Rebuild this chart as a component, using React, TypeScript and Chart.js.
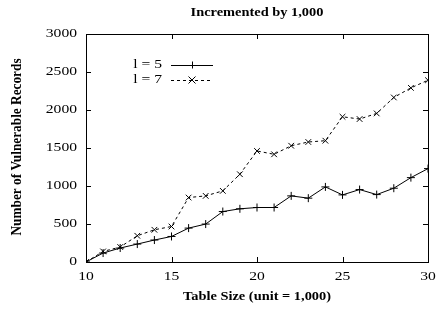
import React, { useEffect, useRef } from "react";
import { Chart, registerables } from "chart.js";

Chart.register(...registerables);

const tableSizes = [10, 11, 12, 13, 14, 15, 16, 17, 18, 19, 20, 21, 22, 23, 24, 25, 26, 27, 28, 29, 30];
const seriesL5 = [0, 118, 184, 236, 289, 336, 446, 499, 664, 700, 717, 717, 870, 840, 988, 883, 953, 887, 971, 1110, 1229];
const seriesL7 = [0, 139, 197, 345, 424, 467, 848, 870, 936, 1155, 1461, 1417, 1530, 1579, 1596, 1911, 1881, 1955, 2165, 2291, 2392];
const xTicks = [10, 15, 20, 25, 30];
const yTicks = [0, 500, 1000, 1500, 2000, 2500, 3000];
const seriesLabels = ["l = 5", "l = 7"];
const chartTitle = "Incremented by 1,000";
const xTitle = "Table Size (unit = 1,000)";
const yTitle = "Number of Vulnerable Records";

const FONT = "'Liberation Serif', 'DejaVu Serif', serif";
const SX = 1.2;

function drawText(ctx: any, text: string, x: number, y: number, align: string, font: string, sx = SX) {
  ctx.save();
  ctx.translate(x, y);
  ctx.scale(sx, 1);
  ctx.font = font;
  ctx.textAlign = align;
  ctx.textBaseline = "middle";
  ctx.fillStyle = "#000";
  ctx.fillText(text, 0, 0);
  ctx.restore();
}

const framePlugin = {
  id: "frame",
  afterDatasetsDraw(chart: any) {
    const { ctx, chartArea: a, scales } = chart;
    const xs = scales.x;
    const ys = scales.y;
    ctx.save();
    ctx.strokeStyle = "#000";
    ctx.lineWidth = 1;
    ctx.setLineDash([]);
    ctx.strokeRect(Math.round(a.left) + 0.5, Math.round(a.top) + 0.5, Math.round(a.right - a.left), Math.round(a.bottom - a.top));
    const tl = 5;
    ctx.beginPath();
    for (const v of xTicks) {
      const px = Math.round(xs.getPixelForValue(v)) + 0.5;
      ctx.moveTo(px, a.bottom);
      ctx.lineTo(px, a.bottom - tl);
      ctx.moveTo(px, a.top);
      ctx.lineTo(px, a.top + tl);
    }
    for (const v of yTicks) {
      const py = Math.round(ys.getPixelForValue(v)) + 0.5;
      ctx.moveTo(a.left, py);
      ctx.lineTo(a.left + tl, py);
      ctx.moveTo(a.right, py);
      ctx.lineTo(a.right - tl, py);
    }
    ctx.stroke();

    const tickFont = `13px ${FONT}`;
    for (const v of xTicks) {
      drawText(ctx, String(v), xs.getPixelForValue(v), 277, "center", tickFont);
    }
    for (const v of yTicks) {
      drawText(ctx, String(v), a.left - 9, ys.getPixelForValue(v), "right", tickFont);
    }

    // titles
    const titleFont = `bold 12px ${FONT}`;
    drawText(ctx, chartTitle, (a.left + a.right) / 2, 13, "center", titleFont);
    drawText(ctx, xTitle, (a.left + a.right) / 2, 297, "center", titleFont);
    ctx.save();
    ctx.translate(17, 147);
    ctx.rotate(-Math.PI / 2);
    ctx.scale(1, 1.1);
    ctx.font = `bold 13.3px ${FONT}`;
    ctx.textAlign = "center";
    ctx.textBaseline = "middle";
    ctx.fillStyle = "#000";
    ctx.fillText(yTitle, 0, 0);
    ctx.restore();

    // legend
    const datasets = chart.data.datasets;
    const lx0 = 171, lx1 = 213;
    const rows = [65, 80];
    datasets.forEach((ds: any, i: number) => {
      const y = rows[i];
      drawText(ctx, ds.label, 162, y, "right", tickFont);
      ctx.strokeStyle = ds.borderColor;
      ctx.lineWidth = ds.borderWidth;
      ctx.setLineDash(ds.borderDash || []);
      ctx.beginPath();
      ctx.moveTo(lx0, y + 0.5);
      ctx.lineTo(lx1, y + 0.5);
      ctx.stroke();
      ctx.setLineDash([]);
      const cx = (lx0 + lx1) / 2;
      const r = 3.5;
      ctx.beginPath();
      if (ds.pointStyle === "cross") {
        ctx.moveTo(cx - r, y + 0.5);
        ctx.lineTo(cx + r, y + 0.5);
        ctx.moveTo(cx + 0.5, y - r);
        ctx.lineTo(cx + 0.5, y + r);
      } else {
        ctx.moveTo(cx - r, y - r);
        ctx.lineTo(cx + r, y + r);
        ctx.moveTo(cx - r, y + r);
        ctx.lineTo(cx + r, y - r);
      }
      ctx.stroke();
    });
    ctx.restore();
  },
};

export default function App() {
  const ref = useRef<HTMLCanvasElement | null>(null);
  useEffect(() => {
    document.body.style.margin = "0";
    const canvas = ref.current;
    if (!canvas) return;
    const chart = new Chart(canvas, {
      type: "line",
      data: {
        datasets: [
          {
            label: seriesLabels[0],
            data: tableSizes.map((x, i) => ({ x, y: seriesL5[i] })),
            borderColor: "#000",
            borderWidth: 1,
            pointStyle: "cross",
            pointRadius: 4,
            pointBorderColor: "#000",
            pointBorderWidth: 1,
            fill: false,
          } as any,
          {
            label: seriesLabels[1],
            data: tableSizes.map((x, i) => ({ x, y: seriesL7[i] })),
            borderColor: "#000",
            borderWidth: 1,
            borderDash: [3, 3],
            pointStyle: "crossRot",
            pointRadius: 4,
            pointBorderColor: "#000",
            pointBorderWidth: 1,
            fill: false,
          } as any,
        ],
      },
      options: {
        animation: false,
        responsive: false,
        maintainAspectRatio: false,
        layout: { padding: { top: 34, right: 9, left: 0, bottom: 0 } },
        plugins: { legend: { display: false }, title: { display: false }, tooltip: { enabled: false } },
        scales: {
          x: {
            type: "linear",
            min: 10,
            max: 30,
            afterFit: (s: any) => { s.height = 47; },
            grid: { display: false, drawTicks: false },
            border: { display: false },
            ticks: { display: false },
          },
          y: {
            type: "linear",
            min: 0,
            max: 3000,
            afterFit: (s: any) => { s.width = 86; },
            grid: { display: false, drawTicks: false },
            border: { display: false },
            ticks: { display: false },
          },
        },
      },
      plugins: [framePlugin],
    } as any);
    return () => chart.destroy();
  }, []);
  return (
    <div style={{ width: 437, height: 309, background: "#fff" }}>
      <canvas ref={ref} width={437} height={309} />
    </div>
  );
}
